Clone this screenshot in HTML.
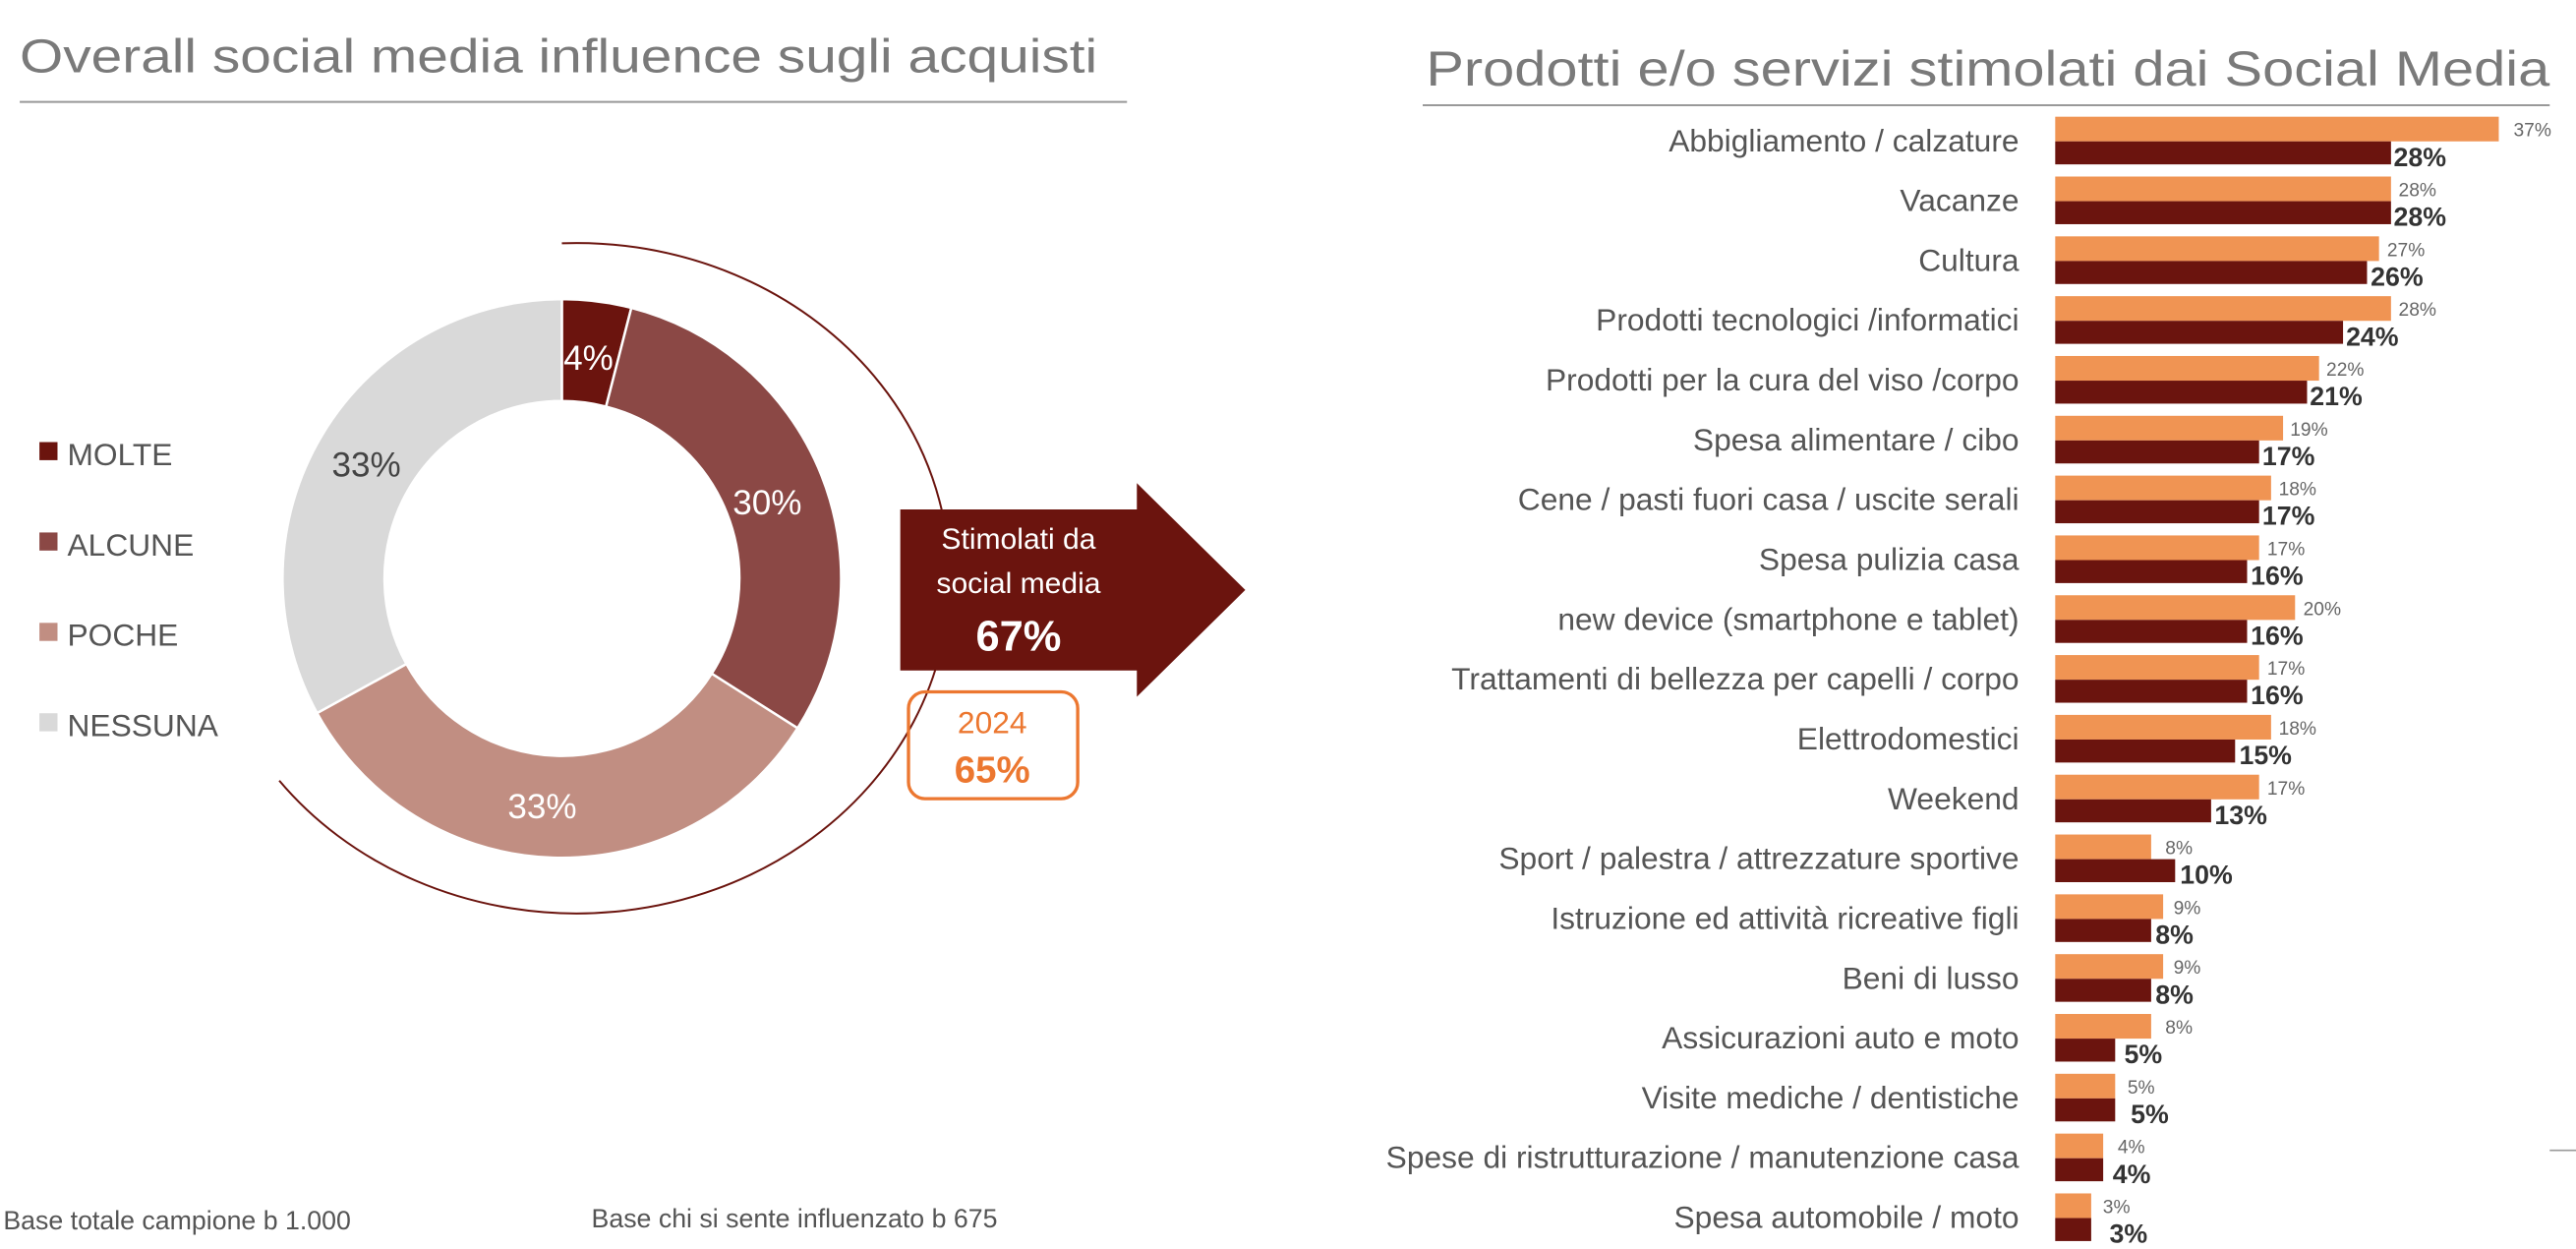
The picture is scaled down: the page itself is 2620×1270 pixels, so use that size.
<!DOCTYPE html>
<html><head><meta charset="utf-8"><style>
html,body{margin:0;padding:0;background:#fff;}
svg{display:block;font-family:"Liberation Sans",sans-serif;}
.lb{font-size:19px;fill:#555;text-anchor:end;}
.ov{font-size:11.5px;fill:#666;}
.dv{font-size:16px;fill:#333;font-weight:bold;}
</style></head><body>
<svg width="2620" height="1270" viewBox="0 0 1568 760" xmlns="http://www.w3.org/2000/svg">
<text x="12" y="44" font-size="29" fill="#7a7a7a" textLength="656" lengthAdjust="spacingAndGlyphs">Overall social media influence sugli acquisti</text>
<line x1="12" y1="62" x2="686" y2="62" stroke="#999" stroke-width="1.2"/>
<text x="868" y="52" font-size="30" fill="#7a7a7a" textLength="684" lengthAdjust="spacingAndGlyphs">Prodotti e/o servizi stimolati dai Social Media</text>
<line x1="866" y1="64" x2="1552" y2="64" stroke="#999" stroke-width="1.2"/>

<!-- donut -->
<path d="M342 182 A170 170 0 0 1 384.3 187.3 L368.9 247.4 A108 108 0 0 0 342 244 Z" fill="#6b140e" stroke="#fff" stroke-width="1.5"/>
<path d="M384.3 187.3 A170 170 0 0 1 485.5 443.1 L433.2 409.9 A108 108 0 0 0 368.9 247.4 Z" fill="#8b4845" stroke="#fff" stroke-width="1.5"/>
<path d="M485.5 443.1 A170 170 0 0 1 193 433.9 L247.4 404 A108 108 0 0 0 433.2 409.9 Z" fill="#c18e82" stroke="#fff" stroke-width="1.5"/>
<path d="M193 433.9 A170 170 0 0 1 342 182 L342 244 A108 108 0 0 0 247.4 404 Z" fill="#d9d9d9" stroke="#fff" stroke-width="1.5"/>
<text x="343" y="225" font-size="21" fill="#fff">4%</text>
<text x="446" y="313" font-size="21" fill="#fff">30%</text>
<text x="309" y="498" font-size="21" fill="#fff">33%</text>
<text x="202" y="290" font-size="21" fill="#444">33%</text>
<path d="M342 148 A227 204 0 1 1 170 475" fill="none" stroke="#6b140e" stroke-width="1.2"/>

<!-- legend -->
<rect x="24" y="269" width="11" height="11" fill="#6b140e"/><text x="41" y="283" font-size="19" fill="#555">MOLTE</text>
<rect x="24" y="324" width="11" height="11" fill="#8b4845"/><text x="41" y="338" font-size="19" fill="#555">ALCUNE</text>
<rect x="24" y="379" width="11" height="11" fill="#c18e82"/><text x="41" y="393" font-size="19" fill="#555">POCHE</text>
<rect x="24" y="434" width="11" height="11" fill="#d9d9d9"/><text x="41" y="448" font-size="19" fill="#555">NESSUNA</text>

<!-- arrow -->
<path d="M548 310 L692 310 L692 294 L758 359 L692 424 L692 408 L548 408 Z" fill="#6b140e"/>
<text x="620" y="334" font-size="18" fill="#fff" text-anchor="middle">Stimolati da</text>
<text x="620" y="361" font-size="18" fill="#fff" text-anchor="middle">social media</text>
<text x="620" y="396" font-size="26" fill="#fff" font-weight="bold" text-anchor="middle">67%</text>
<rect x="553" y="421" width="103" height="65" rx="10" fill="none" stroke="#ec7730" stroke-width="2"/>
<text x="604" y="446" font-size="19" fill="#ec7730" text-anchor="middle">2024</text>
<text x="604" y="476" font-size="23" fill="#ec7730" font-weight="bold" text-anchor="middle">65%</text>

<text x="2" y="748" font-size="16" fill="#555">Base totale campione b 1.000</text>
<text x="360" y="747" font-size="16" fill="#555">Base chi si sente influenzato b 675</text>
<line x1="1552" y1="700" x2="1568" y2="700" stroke="#999" stroke-width="1"/>

<!-- bars -->
<g>
<text class="lb" x="1229" y="92">Abbigliamento / calzature</text>
<rect x="1251" y="71" width="270" height="15" fill="#f09453"/><rect x="1251" y="86" width="204.4" height="14" fill="#6b140e"/>
<text class="ov" x="1530" y="83">37%</text><text class="dv" x="1457" y="101">28%</text>

<text class="lb" x="1229" y="128.4">Vacanze</text>
<rect x="1251" y="107.4" width="204.4" height="15" fill="#f09453"/><rect x="1251" y="122.4" width="204.4" height="14" fill="#6b140e"/>
<text class="ov" x="1460" y="119.4">28%</text><text class="dv" x="1457" y="137.4">28%</text>

<text class="lb" x="1229" y="164.8">Cultura</text>
<rect x="1251" y="143.8" width="197.1" height="15" fill="#f09453"/><rect x="1251" y="158.8" width="189.8" height="14" fill="#6b140e"/>
<text class="ov" x="1453" y="155.8">27%</text><text class="dv" x="1443" y="173.8">26%</text>

<text class="lb" x="1229" y="201.2">Prodotti tecnologici /informatici</text>
<rect x="1251" y="180.2" width="204.4" height="15" fill="#f09453"/><rect x="1251" y="195.2" width="175.2" height="14" fill="#6b140e"/>
<text class="ov" x="1460" y="192.2">28%</text><text class="dv" x="1428" y="210.2">24%</text>

<text class="lb" x="1229" y="237.6">Prodotti per la cura del viso /corpo</text>
<rect x="1251" y="216.6" width="160.6" height="15" fill="#f09453"/><rect x="1251" y="231.6" width="153.3" height="14" fill="#6b140e"/>
<text class="ov" x="1416" y="228.6">22%</text><text class="dv" x="1406" y="246.6">21%</text>

<text class="lb" x="1229" y="274">Spesa alimentare / cibo</text>
<rect x="1251" y="253" width="138.7" height="15" fill="#f09453"/><rect x="1251" y="268" width="124.1" height="14" fill="#6b140e"/>
<text class="ov" x="1394" y="265">19%</text><text class="dv" x="1377" y="283">17%</text>

<text class="lb" x="1229" y="310.4">Cene / pasti fuori casa / uscite serali</text>
<rect x="1251" y="289.4" width="131.4" height="15" fill="#f09453"/><rect x="1251" y="304.4" width="124.1" height="14" fill="#6b140e"/>
<text class="ov" x="1387" y="301.4">18%</text><text class="dv" x="1377" y="319.4">17%</text>

<text class="lb" x="1229" y="346.8">Spesa pulizia casa</text>
<rect x="1251" y="325.8" width="124.1" height="15" fill="#f09453"/><rect x="1251" y="340.8" width="116.8" height="14" fill="#6b140e"/>
<text class="ov" x="1380" y="337.8">17%</text><text class="dv" x="1370" y="355.8">16%</text>

<text class="lb" x="1229" y="383.2">new device (smartphone e tablet)</text>
<rect x="1251" y="362.2" width="146" height="15" fill="#f09453"/><rect x="1251" y="377.2" width="116.8" height="14" fill="#6b140e"/>
<text class="ov" x="1402" y="374.2">20%</text><text class="dv" x="1370" y="392.2">16%</text>

<text class="lb" x="1229" y="419.6">Trattamenti di bellezza per capelli / corpo</text>
<rect x="1251" y="398.6" width="124.1" height="15" fill="#f09453"/><rect x="1251" y="413.6" width="116.8" height="14" fill="#6b140e"/>
<text class="ov" x="1380" y="410.6">17%</text><text class="dv" x="1370" y="428.6">16%</text>

<text class="lb" x="1229" y="456">Elettrodomestici</text>
<rect x="1251" y="435" width="131.4" height="15" fill="#f09453"/><rect x="1251" y="450" width="109.5" height="14" fill="#6b140e"/>
<text class="ov" x="1387" y="447">18%</text><text class="dv" x="1363" y="465">15%</text>

<text class="lb" x="1229" y="492.4">Weekend</text>
<rect x="1251" y="471.4" width="124.1" height="15" fill="#f09453"/><rect x="1251" y="486.4" width="94.9" height="14" fill="#6b140e"/>
<text class="ov" x="1380" y="483.4">17%</text><text class="dv" x="1348" y="501.4">13%</text>

<text class="lb" x="1229" y="528.8">Sport / palestra / attrezzature sportive</text>
<rect x="1251" y="507.8" width="58.4" height="15" fill="#f09453"/><rect x="1251" y="522.8" width="73" height="14" fill="#6b140e"/>
<text class="ov" x="1318" y="519.8">8%</text><text class="dv" x="1327" y="537.8">10%</text>

<text class="lb" x="1229" y="565.2">Istruzione ed attività ricreative figli</text>
<rect x="1251" y="544.2" width="65.7" height="15" fill="#f09453"/><rect x="1251" y="559.2" width="58.4" height="14" fill="#6b140e"/>
<text class="ov" x="1323" y="556.2">9%</text><text class="dv" x="1312" y="574.2">8%</text>

<text class="lb" x="1229" y="601.6">Beni di lusso</text>
<rect x="1251" y="580.6" width="65.7" height="15" fill="#f09453"/><rect x="1251" y="595.6" width="58.4" height="14" fill="#6b140e"/>
<text class="ov" x="1323" y="592.6">9%</text><text class="dv" x="1312" y="610.6">8%</text>

<text class="lb" x="1229" y="638">Assicurazioni auto e moto</text>
<rect x="1251" y="617" width="58.4" height="15" fill="#f09453"/><rect x="1251" y="632" width="36.5" height="14" fill="#6b140e"/>
<text class="ov" x="1318" y="629">8%</text><text class="dv" x="1293" y="647">5%</text>

<text class="lb" x="1229" y="674.4">Visite mediche / dentistiche</text>
<rect x="1251" y="653.4" width="36.5" height="15" fill="#f09453"/><rect x="1251" y="668.4" width="36.5" height="14" fill="#6b140e"/>
<text class="ov" x="1295" y="665.4">5%</text><text class="dv" x="1297" y="683.4">5%</text>

<text class="lb" x="1229" y="710.8">Spese di ristrutturazione / manutenzione casa</text>
<rect x="1251" y="689.8" width="29.2" height="15" fill="#f09453"/><rect x="1251" y="704.8" width="29.2" height="14" fill="#6b140e"/>
<text class="ov" x="1289" y="701.8">4%</text><text class="dv" x="1286" y="719.8">4%</text>

<text class="lb" x="1229" y="747.2">Spesa automobile / moto</text>
<rect x="1251" y="726.2" width="21.9" height="15" fill="#f09453"/><rect x="1251" y="741.2" width="21.9" height="14" fill="#6b140e"/>
<text class="ov" x="1280" y="738.2">3%</text><text class="dv" x="1284" y="756.2">3%</text>
</g>
</svg>
</body></html>
